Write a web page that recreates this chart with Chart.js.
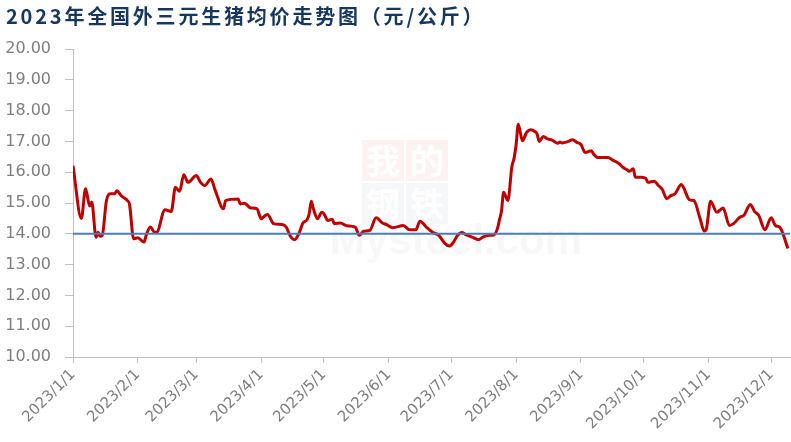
<!DOCTYPE html>
<html>
<head>
<meta charset="utf-8">
<script src="https://cdn.jsdelivr.net/npm/chart.js@4.4.1/dist/chart.umd.min.js"></script>
<style>
  html, body { margin: 0; padding: 0; background: #fff; }
  #wrap { position: relative; width: 791px; height: 442px; }
  #title {
    position: absolute; left: 6px; top: 1px;
    font: bold 20px "Noto Sans CJK SC", sans-serif;
    color: #17375e; letter-spacing: 2.8px; white-space: nowrap;
  }
  canvas { position: absolute; left: 0; top: 0; }
</style>
</head>
<body>
<div id="wrap">
  <canvas id="c" width="791" height="442"></canvas>
  <div id="title">2023年全国外三元生猪均价走势图（元/公斤）</div>
</div>
<script>
// 外三元生猪均价 (元/公斤)
const dates = [
  "1/1", "1/5", "1/7", "1/9", "1/10", "1/12", "1/13", "1/14", "1/15", "1/17",
  "1/19", "1/21", "1/22", "1/24", "1/27", "1/28", "1/30", "2/1", "2/4", "2/5",
  "2/7", "2/9", "2/10", "2/14", "2/17", "2/19", "2/21", "2/23", "2/25", "3/1",
  "3/3", "3/5", "3/8", "3/10", "3/14", "3/15", "3/21", "3/22", "3/24", "3/27",
  "3/30", "4/1", "4/2", "4/4", "4/7", "4/11", "4/13", "4/15", "4/17", "4/19",
  "4/21", "4/23", "4/24", "4/25", "4/26", "4/28", "4/30", "5/1", "5/3", "5/5",
  "5/6", "5/9", "5/12", "5/16", "5/18", "5/20", "5/23", "5/26", "5/29", "5/31",
  "6/3", "6/8", "6/11", "6/14", "6/16", "6/19", "6/22", "6/25", "6/28", "6/30",
  "7/2", "7/4", "7/6", "7/8", "7/11", "7/14", "7/16", "7/19", "7/21", "7/23",
  "7/24", "7/25", "7/26", "7/28", "7/30", "7/31", "8/1", "8/2", "8/4", "8/6",
  "8/8", "8/10", "8/11", "8/12", "8/14", "8/16", "8/18", "8/21", "8/22", "8/23",
  "8/26", "8/28", "8/30", "9/1", "9/3", "9/6", "9/7", "9/9", "9/14", "9/16",
  "9/19", "9/21", "9/23", "9/24", "9/26", "9/27", "9/30", "10/2", "10/3", "10/6",
  "10/8", "10/10", "10/12", "10/14", "10/16", "10/19", "10/20", "10/23", "10/25", "10/28",
  "10/30", "10/31", "11/2", "11/5", "11/8", "11/11", "11/13", "11/16", "11/18", "11/21",
  "11/23", "11/25", "11/28", "12/1", "12/3", "12/5", "12/6", "12/9"
];
const prices = [
  16.21, 14.50, 15.46, 14.90, 15.03, 13.89, 14.05, 13.92, 13.95, 15.08,
  15.30, 15.30, 15.40, 15.24, 15.08, 14.97, 13.84, 13.87, 13.73, 13.95,
  14.22, 14.05, 14.05, 14.78, 14.72, 15.51, 15.38, 15.92, 15.67, 15.89,
  15.67, 15.57, 15.78, 15.42, 14.81, 15.08, 15.13, 14.97, 14.99, 14.84,
  14.81, 14.49, 14.54, 14.63, 14.33, 14.30, 14.22, 13.92, 13.81, 14.00,
  14.35, 14.46, 14.65, 15.06, 14.81, 14.49, 14.70, 14.65, 14.43, 14.47,
  14.33, 14.35, 14.26, 14.22, 13.95, 14.08, 14.11, 14.52, 14.35, 14.30,
  14.20, 14.27, 14.13, 14.13, 14.41, 14.22, 14.05, 13.95, 13.68, 13.60,
  13.73, 13.95, 14.04, 13.97, 13.89, 13.81, 13.89, 13.95, 13.95, 14.16,
  14.45, 14.75, 15.35, 15.08, 16.20, 16.45, 16.90, 17.56, 17.02, 17.29,
  17.38, 17.32, 17.24, 17.00, 17.16, 17.08, 17.05, 16.94, 16.98, 16.95,
  17.00, 17.05, 16.97, 16.90, 16.64, 16.70, 16.59, 16.48, 16.48, 16.40,
  16.29, 16.16, 16.08, 16.03, 16.11, 15.84, 15.84, 15.80, 15.67, 15.71,
  15.57, 15.43, 15.14, 15.24, 15.30, 15.60, 15.51, 15.10, 15.08, 14.49,
  14.09, 14.16, 15.06, 14.70, 14.84, 14.27, 14.33, 14.54, 14.60, 14.95,
  14.73, 14.60, 14.13, 14.52, 14.27, 14.22, 14.11, 13.52
];
const monthTicks = ["1/1", "2/1", "3/1", "4/1", "5/1", "6/1", "7/1", "8/1", "9/1", "10/1", "11/1", "12/1"];
const yTicks = [10, 11, 12, 13, 14, 15, 16, 17, 18, 19, 20];
const refLine = 14;
const axisEnd = "12/10";

function dayOf(md) {
  const [m, d] = md.split("/").map(Number);
  return (Date.UTC(2023, m - 1, d) - Date.UTC(2023, 0, 1)) / 86400000;
}

const xMax = dayOf(axisEnd);
const tickDays = monthTicks.map(dayOf);

// faint Mysteel watermark behind the lines
const watermark = {
  id: "watermark",
  beforeDatasetsDraw(chart) {
    const c = chart.ctx;
    c.save();
    const boxes = [
      [362, 140, "我", "rgba(192,0,0,0.05)"],
      [406, 140, "的", "rgba(192,0,0,0.05)"],
      [362, 183, "钢", "rgba(31,73,125,0.045)"],
      [406, 183, "铁", "rgba(31,73,125,0.045)"]
    ];
    c.font = "bold 34px 'Noto Sans CJK SC'";
    c.textAlign = "center";
    c.textBaseline = "middle";
    boxes.forEach(([bx, by, ch, col]) => {
      c.fillStyle = col;
      c.fillRect(bx, by, 42, 41);
      c.fillStyle = "#ffffff";
      c.fillText(ch, bx + 21, by + 21);
    });
    c.font = "bold 42px 'Liberation Sans'";
    c.textAlign = "left";
    c.textBaseline = "alphabetic";
    c.fillStyle = "rgba(0,0,0,0.03)";
    c.fillText("Mysteel.com", 330, 254);
    c.restore();
  }
};

new Chart(document.getElementById("c").getContext("2d"), {
  type: "line",
  data: {
    datasets: [
      {
        data: [{ x: 0, y: refLine }, { x: xMax, y: refLine }],
        borderColor: "#4a7ebb",
        borderWidth: 2,
        pointRadius: 0,
        order: 0
      },
      {
        data: dates.map((d, i) => ({ x: dayOf(d), y: prices[i] })),
        borderColor: "#c00000",
        borderWidth: 3,
        pointRadius: 0,
        cubicInterpolationMode: "monotone",
        order: 1
      }
    ]
  },
  options: {
    responsive: false,
    animation: false,
    events: [],
    layout: { padding: { top: 49, right: 1, left: 0, bottom: 0 } },
    plugins: { legend: { display: false }, tooltip: { enabled: false } },
    scales: {
      x: {
        type: "linear",
        min: 0,
        max: xMax,
        afterBuildTicks: (ax) => { ax.ticks = tickDays.map((v) => ({ value: v })); },
        afterFit: (ax) => { ax.height = 85; },
        ticks: {
          autoSkip: false,
          maxRotation: 45,
          minRotation: 45,
          color: "#7f7f7f",
          font: { family: "DejaVu Sans", size: 15 },
          callback: (v) => "2023/" + monthTicks[tickDays.indexOf(v)]
        },
        grid: { drawOnChartArea: false, tickLength: 6, color: "#bfbfbf" },
        border: { color: "#bfbfbf" }
      },
      y: {
        min: 10,
        max: 20,
        afterBuildTicks: (ax) => { ax.ticks = yTicks.map((v) => ({ value: v })); },
        afterFit: (ax) => { ax.width = 73; },
        ticks: {
          color: "#7f7f7f",
          font: { family: "DejaVu Sans", size: 16 },
          padding: 14,
          callback: (v) => Number(v).toFixed(2)
        },
        grid: { drawOnChartArea: false, tickLength: 8, color: "#bfbfbf" },
        border: { color: "#bfbfbf" }
      }
    }
  },
  plugins: [watermark]
});
</script>
</body>
</html>
